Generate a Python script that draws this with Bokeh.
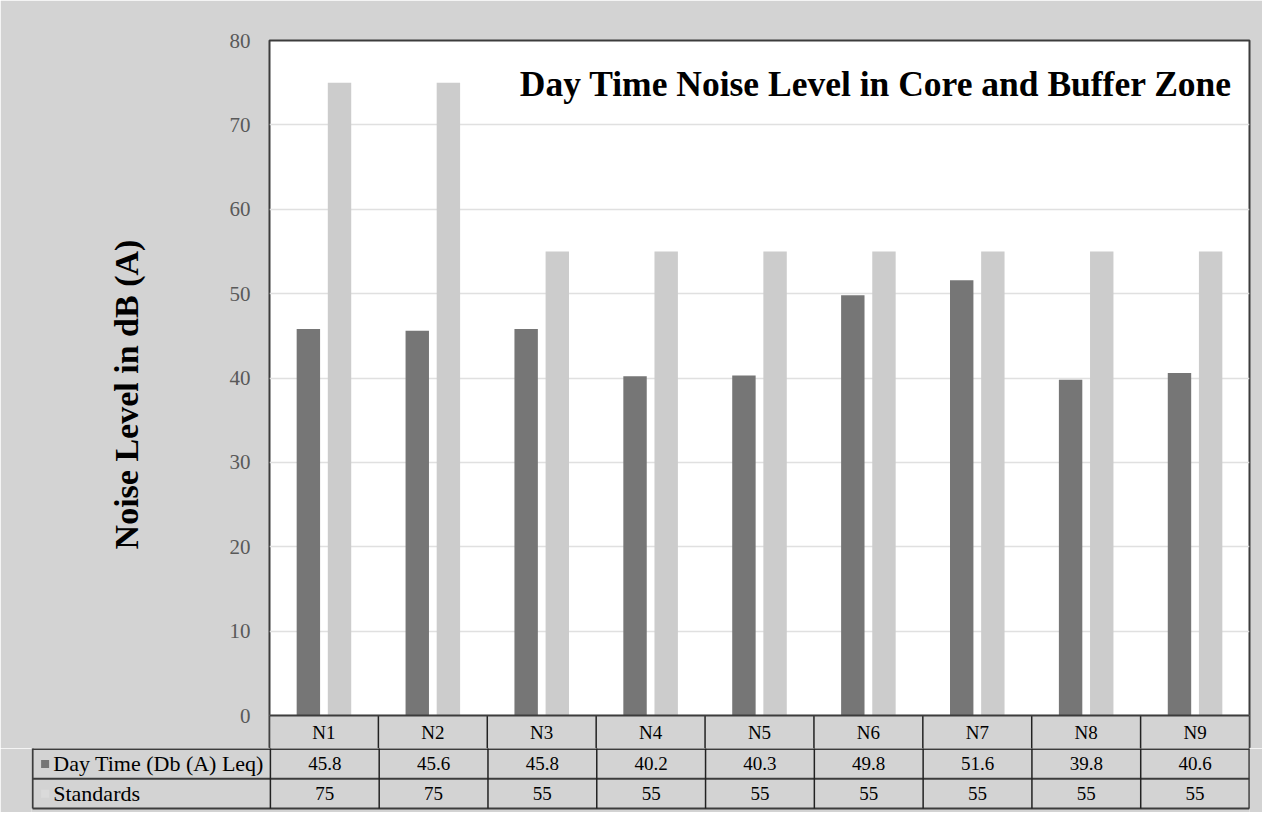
from bokeh.plotting import figure
from bokeh.models import FactorRange, Range1d, Label, ColumnDataSource
from bokeh.transform import dodge
from bokeh.core.properties import value
from bokeh.embed import file_html
from bokeh.resources import INLINE

# ---- data ----
categories = ["N1", "N2", "N3", "N4", "N5", "N6", "N7", "N8", "N9"]
day_time = [45.8, 45.6, 45.8, 40.2, 40.3, 49.8, 51.6, 39.8, 40.6]
standards = [75, 75, 55, 55, 55, 55, 55, 55, 55]
series_names = ["Day Time (Db (A) Leq)", "Standards"]
y_ticks = [0, 10, 20, 30, 40, 50, 60, 70, 80]

title_text = "Day Time Noise Level in Core and Buffer Zone"
y_label = "Noise Level in dB (A)"

# ---- styles ----
BG = "#d3d3d3"
DARK = "#767676"
LIGHT = "#cccccc"
LINE = "#3c3c3c"
SERIF = "Liberation Serif"
tfont = value(SERIF)

W = 1262
n = len(categories)
HEADER = 3.91          # height of the category header row, in y units

# ---- chart (with category header row of the data table below 0) ----
src = ColumnDataSource(dict(cat=categories, day=day_time, std=standards))
p1 = figure(width=W, height=748, x_range=FactorRange(*categories),
            y_range=Range1d(-HEADER, 80), output_backend="svg",
            toolbar_location=None, title=None, min_border_left=269,
            min_border_right=W - 1249, min_border_top=40, min_border_bottom=0)
p1.background_fill_color = "white"
p1.border_fill_color = BG
p1.outline_line_color = LINE
p1.outline_line_width = 2

# header row background
p1.quad(left=[0], right=[n], bottom=[-HEADER], top=[0], fill_color=BG, line_color=None)

p1.vbar(x=dodge("cat", -0.143, range=p1.x_range), top="day", width=0.215,
        source=src, fill_color=DARK, line_color=None)
p1.vbar(x=dodge("cat", 0.143, range=p1.x_range), top="std", width=0.215,
        source=src, fill_color=LIGHT, line_color=None)

# header row lines and labels
vx = list(range(n + 1))
p1.segment(x0=vx, y0=[0] * len(vx), x1=vx, y1=[-HEADER] * len(vx),
           line_color="#222222", line_width=1.5)
p1.segment(x0=[0], y0=[0], x1=[n], y1=[0], line_color=LINE, line_width=2)
p1.text(x=categories, y=[-HEADER / 2] * n, text=categories, text_align="center",
        text_baseline="middle", text_font=tfont, text_font_size="19px",
        text_color="black")

p1.xaxis.visible = False
p1.xgrid.grid_line_color = None
p1.ygrid.grid_line_color = "#e0e0e0"
p1.ygrid.grid_line_width = 1.5
p1.yaxis.ticker = y_ticks
p1.yaxis.axis_line_color = None
p1.yaxis.major_tick_line_color = None
p1.yaxis.minor_tick_line_color = None
p1.yaxis.major_label_standoff = 13
p1.yaxis.major_label_text_font = SERIF
p1.yaxis.major_label_text_font_size = "21px"
p1.yaxis.major_label_text_color = "#595959"
p1.yaxis.axis_label = y_label
p1.yaxis.axis_label_text_font = SERIF
p1.yaxis.axis_label_text_font_style = "bold"
p1.yaxis.axis_label_text_font_size = "34px"
p1.yaxis.axis_label_text_color = "black"
p1.yaxis.axis_label_standoff = 82

p1.add_layout(Label(x=n - 0.157, y=74.8, text=title_text, text_align="right",
                    text_baseline="middle", text_font=SERIF, text_font_style="bold",
                    text_font_size="35.5px", text_color="black"))

# ---- data table rows ----
left = -2.186
p2 = figure(width=W, height=64, x_range=Range1d(left - 0.01, n),
            y_range=Range1d(-0.134, 2.017), output_backend="svg",
            toolbar_location=None, title=None, x_axis_location=None,
            y_axis_location=None, min_border_left=31, min_border_right=W - 1249,
            min_border_top=0, min_border_bottom=0)
p2.background_fill_color = BG
p2.border_fill_color = BG
p2.outline_line_color = None
p2.xgrid.grid_line_color = None
p2.ygrid.grid_line_color = None

# horizontal lines
p2.segment(x0=[left, left, left], y0=[2, 1, 0], x1=[n, n, n], y1=[2, 1, 0],
           line_color=LINE, line_width=2)
# vertical lines
p2.segment(x0=vx, y0=[0] * len(vx), x1=vx, y1=[2.1] * len(vx),
           line_color="#222222", line_width=1.5)
p2.segment(x0=[left, n], y0=[0, 0], x1=[left, n], y1=[2.1, 2.1],
           line_color=LINE, line_width=2)

cx = [i + 0.5 for i in range(n)]
p2.text(x=cx, y=[1.5] * n, text=[f"{v:.1f}" for v in day_time], text_align="center",
        text_baseline="middle", text_font=tfont, text_font_size="19px",
        text_color="black")
p2.text(x=cx, y=[0.5] * n, text=[str(v) for v in standards], text_align="center",
        text_baseline="middle", text_font=tfont, text_font_size="19px",
        text_color="black")
p2.text(x=[left + 0.19] * 2, y=[1.5, 0.5], text=series_names, text_align="left",
        text_baseline="middle", text_font=tfont, text_font_size="22px",
        text_color="black")
p2.scatter(x=[left + 0.115] * 2, y=[1.5, 0.5], marker="square", size=8,
           fill_color=[DARK, "#dadada"], line_color=None)

open("out.html", "w").write(file_html([p1, p2], INLINE))
